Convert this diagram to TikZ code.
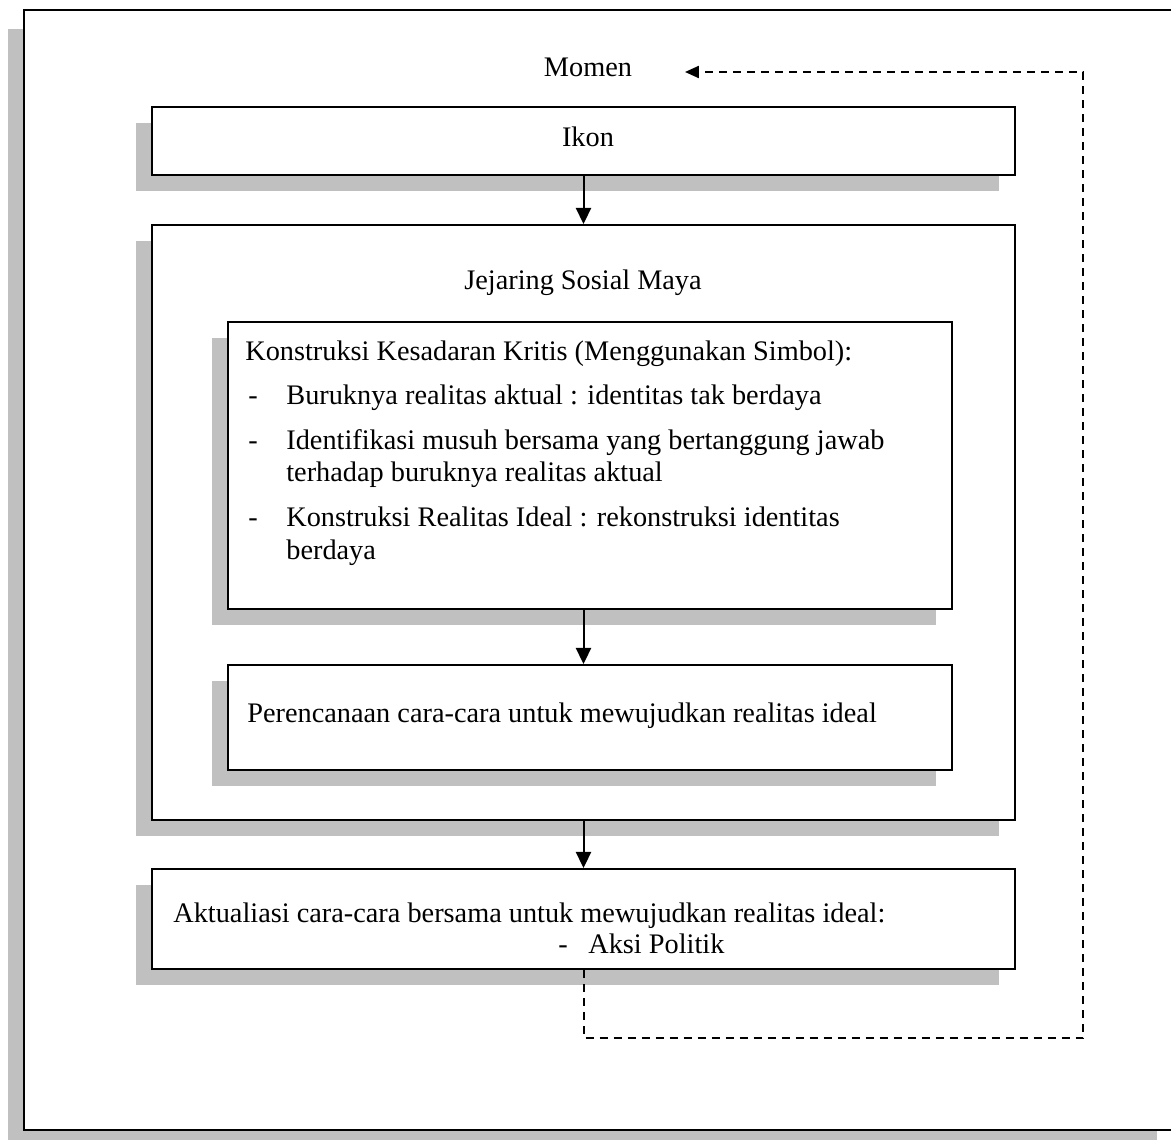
\documentclass[tikz,border=0pt]{standalone}
\usepackage{fontspec}
\setmainfont{Liberation Serif}
\usetikzlibrary{arrows.meta,shadows,fit}
\definecolor{shadowgray}{RGB}{192,192,192}
\newlength\unitpx
\setlength\unitpx{0.53pt}
\tikzset{
  panel/.style={draw, line width=2\unitpx, fill=white, inner sep=0pt,
    drop shadow={shadow xshift=-16\unitpx, shadow yshift=-#1\unitpx,
      opacity=1, fill=shadowgray, draw=none}},
  panel/.default=16,
  textline/.style={anchor=base west, inner sep=0pt},
  title/.style={anchor=base, inner sep=0pt},
  arrowline/.style={line width=2\unitpx, -{Triangle[length=8.5pt,width=8pt]}},
  loopline/.style={line width=2\unitpx, dash pattern=on 8\unitpx off 6\unitpx,
    -{Triangle[length=7.4pt,width=6.4pt]}}
}

\begin{document}
\begin{tikzpicture}[x=0.53pt, y=-0.53pt, every node/.style={font=\fontsize{15}{17}\selectfont}]
    \useasboundingbox (0,0) rectangle (1171,1140);

    % Draw the outer frame and the boxes
    \node[panel=19, fit={(24,10) (1173,1130)}] (frame) {};
    \node[panel, fit={(152,107) (1015,175)}] (ikon) {};
    \node[panel, fit={(152,225) (1015,820)}] (jejaring) {};
    \node[panel, fit={(228,322) (952,609)}] (konstruksi) {};
    \node[panel, fit={(228,665) (952,770)}] (perencanaan) {};
    \node[panel, fit={(152,869) (1015,969)}] (aktualisasi) {};

    % Titles
    \node[title] (momen) at (588,77) {Momen};
    \node[title] (ikontext) at (588,146) {Ikon};
    \node[title] (jejaringtext) at (583,289) {Jejaring Sosial Maya};

    % Text of the critical awareness box
    \node[textline] (konstruksitext) at (245,360) {Konstruksi Kesadaran Kritis (Menggunakan Simbol):};
    \foreach \yy [count=\i] in {404,449,526} {
        \node[textline] (dash\i) at (248,\yy) {-};
    }
    \foreach \yy/\txt [count=\i] in {404/Buruknya realitas aktual : identitas tak berdaya,
        449/Identifikasi musuh bersama yang bertanggung jawab,
        481/terhadap buruknya realitas aktual,
        526/Konstruksi Realitas Ideal : rekonstruksi identitas,
        559/berdaya} {
        \node[textline] (line\i) at (286,\yy) {\txt};
    }

    \node[textline] (perencanaantext) at (247,722) {Perencanaan cara-cara untuk mewujudkan realitas ideal};
    \node[textline] (aktualisasitext) at (173,922) {Aktualiasi cara-cara bersama untuk mewujudkan realitas ideal:};
    \node[textline] (aksidash) at (558,953) {-};
    \node[textline] (aksitext) at (588,953) {Aksi Politik};

    % Draw the arrows between the boxes
    \draw[arrowline] (ikon.south) -- (jejaring.north);
    \draw[arrowline] (ikon.south |- konstruksi.south) -- (ikon.south |- perencanaan.north);
    \draw[arrowline] (jejaring.south) -- (aktualisasi.north);

    % Dashed feedback loop back to the moment
    \coordinate (loopcorner) at (1083,1038);
    \coordinate (looptip) at (685,72);
    \draw[loopline] (aktualisasi.south) |- (loopcorner) |- (looptip);

\end{tikzpicture}
\end{document}
